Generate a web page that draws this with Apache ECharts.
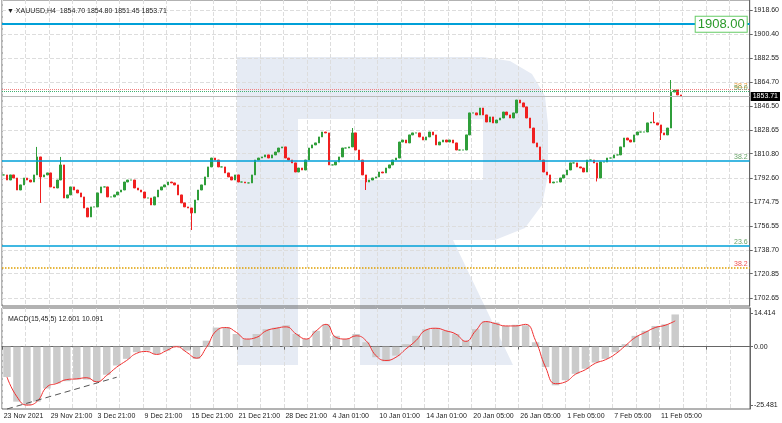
<!DOCTYPE html>
<html><head><meta charset="utf-8">
<script src="https://cdn.jsdelivr.net/npm/echarts@6/dist/echarts.min.js"></script>
<style>html,body{margin:0;padding:0;background:#fff}#c{width:782px;height:423px}</style>
</head><body><div id="c"></div>
<script>
const closes = [
1794.9,1791.1,1794.9,1792.6,1783.6,1787.4,1792.6,1791.1,1789.6,1794.9,
1808.4,1793.4,1794.9,1796.4,1785.9,1785.1,1791.1,1802.4,1777.6,1779.9,
1785.9,1783.6,1781.4,1778.4,1770.1,1763.4,1770.9,1770.9,1781.4,1785.9,
1785.9,1778.4,1778.4,1779.9,1782.1,1783.6,1789.6,1791.1,1791.1,1785.1,
1783.6,1782.1,1777.6,1777.6,1772.4,1778.4,1783.6,1785.9,1787.4,1789.6,
1788.9,1787.4,1779.9,1773.9,1770.9,1770.1,1766.4,1776.1,1783.6,1787.4,
1793.4,1800.9,1807.6,1806.1,1800.9,1800.9,1796.4,1793.4,1791.1,1794.9,
1789.6,1789.6,1788.9,1788.9,1794.9,
1806.1,1807.6,1808.4,1809.9,1807.6,1809.9,1812.1,1815.1,1815.9,1807.6,
1806.1,1803.9,1797.1,1800.1,1798.6,1806.1,1815.1,1817.4,1818.9,1823.4,
1827.1,1826.4,1802.4,1802.4,1804.6,1808.4,1815.1,1815.1,1815.9,1826.4,
1813.6,1806.1,1794.9,1789.6,1791.1,1792.6,1793.4,1797.1,1796.4,1800.1,
1802.4,1806.1,1807.6,1819.6,1821.1,1818.9,1824.9,1826.4,1826.4,1823.4,
1821.1,1823.4,1827.1,1824.9,1817.4,1819.6,1821.1,1819.6,1821.1,1818.9,
1813.6,1813.6,1813.6,1824.9,1841.4,1841.4,1839.9,1845.1,1839.9,1834.6,
1838.4,1833.9,1836.1,1837.6,
1842.1,1839.9,1837.6,1841.4,1851.1,1848.9,1845.9,1837.6,1830.1,1818.9,
1815.9,1806.1,1797.1,1794.9,1788.9,1789.6,1789.6,1792.6,1794.9,1798.6,
1803.9,1803.9,1800.9,1800.1,1797.1,1806.1,1806.1,1803.9,1792.6,1804.6,
1804.6,1807.6,1807.6,1809.9,1809.9,1815.9,1822.6,1821.1,1819.6,1824.9,
1827.1,1827.1,1827.1,1833.9,1834.6,1833.9,1832.4,1826.4,1824.9,1830.1,
1857.1,1858.6,1854.9,1853.71];
const firstOpen = 1794.9;
const wickHighs = [[10,1815.9],[17,1808.4],[104,1830.1],[194,1842.0],[199,1866.1]];
const wickLows = [[11,1773.9],[56,1753.6],[108,1783.6],[177,1790.0],[196,1821.1]];
const priceTicks = [1918.60,1900.40,1882.55,1864.70,1846.50,1828.65,1810.80,1792.60,1774.75,1756.55,1738.70,1720.85,1702.65];
const macdTicks = [14.414,0,-25.481];
const xLabels = ['23 Nov 2021','29 Nov 21:00','3 Dec 21:00','9 Dec 21:00','15 Dec 21:00','21 Dec 21:00','28 Dec 21:00','4 Jan 01:00','10 Jan 01:00','14 Jan 01:00','20 Jan 05:00','26 Jan 05:00','1 Feb 05:00','7 Feb 05:00','11 Feb 05:00'];
const macdHist = [-13.2,-23.9,-25.4,-23.9,-18.2,-16.0,-15.0,-14.3,-14.3,-15.3,-12.2,-8.2,-5.3,-2.4,-1.7,-3.2,-1.7,0.4,-1.7,-5.3,2.6,8.3,8.3,5.5,3.3,5.5,7.6,8.3,9.3,5.5,3.3,6.9,9.7,4.7,3.3,5.5,1.9,-4.6,-6.4,-3.9,1.1,
4.7,7.6,8.0,6.9,5.5,2.6,7.6,10.9,10.5,9.0,9.5,9.3,1.9,-8.9,-16.8,-14.6,-11.8,-9.6,-6.9,-5.3,-2.4,1.1,4.7,6.9,9.0,9.7,14.0];
const macdSignal = [-13.2,-21.8,-25.4,-23.9,-17.5,-16.0,-14.3,-14.0,-13.5,-15.3,-12.5,-8.9,-6.0,-2.9,-2.1,-3.4,-1.7,0,-2.4,-5.0,-0.3,6.9,8.3,6.2,3.3,4.0,6.9,8.0,8.6,5.5,3.3,6.9,9.7,4.0,3.3,4.7,2.6,-3.9,-6.0,-4.6,-1.0,
2.6,7.2,8.0,6.9,5.5,2.3,6.9,10.9,10.0,9.0,9.0,9.7,2.6,-8.9,-16.1,-15.3,-12.0,-10.0,-7.2,-5.7,-3.2,0.4,4.0,6.2,8.3,9.3,11.2];
const levels = [
  {v:1908.00, label:'61.8', lc:'#00a0d8', w:2, t:'solid', tc:'#6aa56a'},
  {v:1859.1, label:'38.2', lc:'#f08080', w:1, t:'dotted', tc:'#f0a040'},
  {v:1857.3, label:'50.0', lc:'#40b070', w:1, t:'dotted', tc:'#6aa56a'},
  {v:1805.7, label:'38.2', lc:'#00a0d8', w:1.5, t:'solid', tc:'#6aa56a'},
  {v:1742.1, label:'23.6', lc:'#00a0d8', w:1.5, t:'solid', tc:'#6aa56a'},
  {v:1725.6, label:'38.2', lc:'#e0a000', w:1.5, t:'dotted', tc:'#f05050'}
];
const NCAT = 223, NM = 75;

const cats = Array.from({length:NCAT},(_,i)=>i);
const hi = new Map(wickHighs), lo = new Map(wickLows);
const candles = closes.map((c,i)=>{
  const o = i===0?firstOpen:closes[i-1];
  return [o,c,lo.has(i)?lo.get(i):Math.min(o,c),hi.has(i)?hi.get(i):Math.max(o,c)];
});
const mcats = Array.from({length:NM},(_,i)=>i);
const font = 'Liberation Sans';
const fs = 7;
const wm = '#e6ebf4';
const polys = [
  [[237,57],[298,57],[298,365],[237,365]],
  [[297,57],[484,57],[484,119],[297,119]],
  [[483,57],[510,61],[532,74],[545,96],[548,125],[548,175],[542,205],[525,228],[495,240],[483,240]],
  [[360,180],[484,180],[484,240],[453,240],[513,365],[360,365]]
];
const ch = echarts.init(document.getElementById('c'));
ch.setOption({
  animation:false,
  graphic:polys.map(p=>({type:'polygon',z:-10,silent:true,shape:{points:p},style:{fill:wm}})),
  title:[
    {text:'▼ XAUUSD,H4  1854.70 1854.80 1851.45 1853.71',left:2,top:3,textStyle:{fontSize:fs,fontWeight:'normal',color:'#222',fontFamily:font}},
    {text:'MACD(15,45,5) 12.601 10.091',left:3,top:311,textStyle:{fontSize:fs,fontWeight:'normal',color:'#222',fontFamily:font}}
  ],
  grid:[
    {left:2,right:32,top:0,height:306,show:true,borderColor:'#666',borderWidth:1},
    {left:2,right:32,top:308,height:101,show:true,borderColor:'#666',borderWidth:1}
  ],
  xAxis:[
    {type:'category',gridIndex:0,data:cats,boundaryGap:true,axisLabel:{show:false},axisTick:{show:false},axisLine:{show:false},
     splitLine:{show:true,interval:6,lineStyle:{color:'#ddd',type:'dashed'}}},
    {type:'category',gridIndex:1,data:cats,boundaryGap:true,axisLine:{lineStyle:{color:'#666'}},axisTick:{show:true,interval:13,length:3,lineStyle:{color:'#666'}},
     axisLabel:{interval:13,align:'left',hideOverlap:false,showMinLabel:true,fontSize:fs,color:'#222',fontFamily:font,margin:4,formatter:(v,i)=>xLabels[Math.round(i/14)]||''},
     splitLine:{show:true,interval:6,lineStyle:{color:'#ddd',type:'dashed'}}},
    {type:'category',gridIndex:1,data:mcats,show:false}
  ],
  yAxis:[
    {type:'value',gridIndex:0,position:'right',min:1696.6,max:1926.1,
     axisLine:{show:true,lineStyle:{color:'#666'}},axisTick:{show:true,customValues:priceTicks,length:3},
     axisLabel:{customValues:priceTicks,fontSize:fs,color:'#222',fontFamily:font,margin:4,formatter:v=>v.toFixed(2)},
     splitLine:{show:true,lineStyle:{color:'#ddd',type:'dashed'}}},
    {type:'value',gridIndex:1,position:'right',min:-27.1,max:16.8,
     axisLine:{show:true,lineStyle:{color:'#666'}},axisTick:{show:true,customValues:macdTicks,length:3},
     axisLabel:{customValues:macdTicks,fontSize:fs,color:'#222',fontFamily:font,margin:4,formatter:v=>v===0?'0.00':String(v)},
     splitLine:{show:false}}
  ],
  series:[
    {type:'candlestick',xAxisIndex:0,yAxisIndex:0,data:candles,barWidth:2,
     itemStyle:{color:'#2f9e3a',color0:'#f02020',borderColor:'#2f9e3a',borderColor0:'#f02020',borderWidth:1},
     markLine:{symbol:'none',silent:true,
       data:levels.map(l=>({yAxis:l.v,lineStyle:{color:l.lc,width:l.w,type:l.t},
         label:{show:true,position:'insideEndTop',formatter:l.label,color:l.tc,fontSize:fs,distance:[2,0],fontFamily:font}}))
         .concat([{yAxis:1853.71,lineStyle:{color:'#bbb',width:1,type:'solid'},
           label:{show:true,position:'end',formatter:'1853.71',backgroundColor:'#000',color:'#fff',fontSize:fs,padding:[1,2],distance:1,fontFamily:font}}])},
     markPoint:{symbol:'rect',symbolSize:1,itemStyle:{color:'rgba(0,0,0,0)'},
       data:[{coord:[214,1908.0],label:{show:true,formatter:'1908.00',color:'#2a9a2a',fontSize:13,backgroundColor:'#fff',borderColor:'#6c6',borderWidth:1,padding:[1,2],fontFamily:font}}]}
    },
    {type:'bar',xAxisIndex:2,yAxisIndex:1,data:macdHist,barCategoryGap:'25%',itemStyle:{color:'#cbcbcb'}},
    {type:'line',xAxisIndex:2,yAxisIndex:1,data:macdSignal,smooth:true,symbol:'none',lineStyle:{color:'#f03030',width:1},
     markLine:{symbol:'none',silent:true,label:{show:false},lineStyle:{color:'#555',type:[6,4],width:1},
       data:[[{coord:[0,-27.1]},{coord:[11,-13.3]}]]}}
  ]
});
</script></body></html>
